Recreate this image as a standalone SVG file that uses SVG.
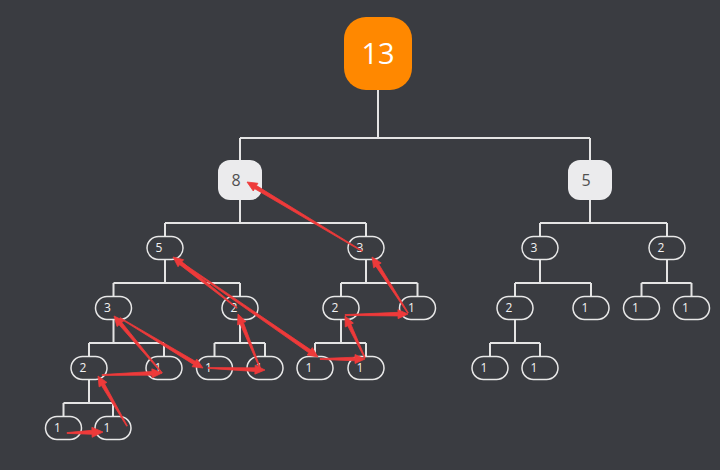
<svg xmlns="http://www.w3.org/2000/svg" width="720" height="470" viewBox="0 0 720 470">
<style>
.bg{fill:#3a3c41}
.edge{fill:none;stroke:#e4e4e4;stroke-width:2}
.pill{fill:#3a3c41;stroke:#e8e8e8;stroke-width:1.5}
.pt{font-family:"Open Sans","Noto Sans",sans-serif;font-size:12px;fill:#f2f2f2;text-anchor:middle}
.big{fill:#ebebed}
.bt{font-family:"Open Sans","Noto Sans",sans-serif;font-size:16px;fill:#505050;text-anchor:middle}
.root{fill:#ff8800}
.rt{font-family:"Open Sans","Noto Sans",sans-serif;font-size:29px;fill:#ffffff;text-anchor:middle}
.arr{fill:#ee3a3a;stroke:#ee3a3a;stroke-width:0.8;stroke-linejoin:round}
</style>
<rect class="bg" x="0" y="0" width="720" height="470"/>
<g id="connectors">
<path class="edge" d="M378 90V138M240 138H590M240 138V160M590 138V160"/>
<path class="edge" d="M240 200V223M165 223H366M165 223V236.5M366 223V236.5"/>
<path class="edge" d="M590 200V223M540 223H667M540 223V236.5M667 223V236.5"/>
<path class="edge" d="M165 259.5V283M113.5 283H240M113.5 283V296.5M240 283V296.5"/>
<path class="edge" d="M366 259.5V283M341 283H417.5M341 283V296.5M417.5 283V296.5"/>
<path class="edge" d="M540 259.5V283M515 283H591M515 283V296.5M591 283V296.5"/>
<path class="edge" d="M667 259.5V283M641.5 283H691.5M641.5 283V296.5M691.5 283V296.5"/>
<path class="edge" d="M113.5 319.5V343M89 343H164M89 343V356.5M164 343V356.5"/>
<path class="edge" d="M240 319.5V343M214.5 343H265M214.5 343V356.5M265 343V356.5"/>
<path class="edge" d="M341 319.5V343M315 343H366M315 343V356.5M366 343V356.5"/>
<path class="edge" d="M515 319.5V343M490 343H540M490 343V356.5M540 343V356.5"/>
<path class="edge" d="M89 379.5V403M63.5 403H113M63.5 403V416.5M113 403V416.5"/>
</g>
<g id="n13"><rect class="root" x="344" y="17" width="68" height="73" rx="22"/><text class="rt" x="378" y="64">13</text></g>
<g id="n8"><rect class="big" x="218" y="160" width="44" height="40" rx="12"/><text class="bt" x="236" y="186">8</text></g>
<g id="n5r"><rect class="big" x="568" y="160" width="44" height="40" rx="12"/><text class="bt" x="586" y="186">5</text></g>
<g id="n5"><rect class="pill" x="147" y="236.5" width="36" height="23" rx="11.5"/><text class="pt" x="159" y="252">5</text></g>
<g id="n3a"><rect class="pill" x="348" y="236.5" width="36" height="23" rx="11.5"/><text class="pt" x="360" y="252">3</text></g>
<g id="n3b"><rect class="pill" x="522" y="236.5" width="36" height="23" rx="11.5"/><text class="pt" x="534" y="252">3</text></g>
<g id="n2a"><rect class="pill" x="649" y="236.5" width="36" height="23" rx="11.5"/><text class="pt" x="661" y="252">2</text></g>
<g id="n3c"><rect class="pill" x="95.5" y="296.5" width="36" height="23" rx="11.5"/><text class="pt" x="107.5" y="312">3</text></g>
<g id="n2b"><rect class="pill" x="222" y="296.5" width="36" height="23" rx="11.5"/><text class="pt" x="234" y="312">2</text></g>
<g id="n2c"><rect class="pill" x="323" y="296.5" width="36" height="23" rx="11.5"/><text class="pt" x="335" y="312">2</text></g>
<g id="n1a"><rect class="pill" x="399.5" y="296.5" width="36" height="23" rx="11.5"/><text class="pt" x="411.5" y="312">1</text></g>
<g id="n2d"><rect class="pill" x="497" y="296.5" width="36" height="23" rx="11.5"/><text class="pt" x="509" y="312">2</text></g>
<g id="n1b"><rect class="pill" x="573" y="296.5" width="36" height="23" rx="11.5"/><text class="pt" x="585" y="312">1</text></g>
<g id="n1c"><rect class="pill" x="623.5" y="296.5" width="36" height="23" rx="11.5"/><text class="pt" x="635.5" y="312">1</text></g>
<g id="n1d"><rect class="pill" x="673.5" y="296.5" width="36" height="23" rx="11.5"/><text class="pt" x="685.5" y="312">1</text></g>
<g id="n2e"><rect class="pill" x="71" y="356.5" width="36" height="23" rx="11.5"/><text class="pt" x="83" y="372">2</text></g>
<g id="n1e"><rect class="pill" x="146" y="356.5" width="36" height="23" rx="11.5"/><text class="pt" x="158" y="372">1</text></g>
<g id="n1f"><rect class="pill" x="196.5" y="356.5" width="36" height="23" rx="11.5"/><text class="pt" x="208.5" y="372">1</text></g>
<g id="n1g"><rect class="pill" x="247" y="356.5" width="36" height="23" rx="11.5"/><text class="pt" x="259" y="372">1</text></g>
<g id="n1h"><rect class="pill" x="297" y="356.5" width="36" height="23" rx="11.5"/><text class="pt" x="309" y="372">1</text></g>
<g id="n1i"><rect class="pill" x="348" y="356.5" width="36" height="23" rx="11.5"/><text class="pt" x="360" y="372">1</text></g>
<g id="n1j"><rect class="pill" x="472" y="356.5" width="36" height="23" rx="11.5"/><text class="pt" x="484" y="372">1</text></g>
<g id="n1k"><rect class="pill" x="522" y="356.5" width="36" height="23" rx="11.5"/><text class="pt" x="534" y="372">1</text></g>
<g id="n1l"><rect class="pill" x="45.5" y="416.5" width="36" height="23" rx="11.5"/><text class="pt" x="57.5" y="432">1</text></g>
<g id="n1m"><rect class="pill" x="95" y="416.5" width="36" height="23" rx="11.5"/><text class="pt" x="107" y="432">1</text></g>
<g id="traversal">
<polygon class="arr" points="67,433.4 92.06,434.3 92.14,437.3 103,432 91.86,427.3 91.94,430.3 67,432.6"/>
<polygon class="arr" points="127.35,425.8 104.56,383.75 106.9,382.4 98,376 99.1,386.9 101.44,385.55 126.65,426.2"/>
<polygon class="arr" points="102,375.4 152.06,375.13 152.15,377.83 162,373 151.85,368.83 151.94,371.53 102,374.6"/>
<polygon class="arr" points="162.31,372.74 121.82,322.49 123.88,320.75 114,316 117,326.55 119.06,324.81 161.69,373.26"/>
<polygon class="arr" points="119.79,318.34 193.5,364.38 192.11,366.7 203,368 196.75,358.98 195.36,361.3 120.21,317.66"/>
<polygon class="arr" points="208,368.4 254.95,371.45 254.85,374.15 265,370 255.17,365.15 255.07,367.85 208,367.6"/>
<polygon class="arr" points="260.37,367.85 243.44,322.58 245.94,321.56 238,314 237.6,324.96 240.1,323.94 259.63,368.15"/>
<polygon class="arr" points="237.25,307.69 181.94,261.82 183.62,259.71 173,257 178.02,266.75 179.7,264.64 236.75,308.31"/>
<polygon class="arr" points="175.77,259.33 308.75,352.8 307.21,355.02 318,357 312.33,347.62 310.79,349.84 176.23,258.67"/>
<polygon class="arr" points="320,359.4 355,360.8 355,363.5 365,359 355,354.5 355,357.2 320,358.6"/>
<polygon class="arr" points="365.36,357.83 350.93,324.26 353.36,323.1 345,316 345.24,326.97 347.67,325.8 364.64,358.17"/>
<polygon class="arr" points="345,315.4 398.03,315.96 398.07,318.66 408,314 397.93,309.66 397.97,312.36 345,314.6"/>
<polygon class="arr" points="408.34,312.78 378.92,264.44 381.19,262.98 372,257 373.63,267.84 375.9,266.38 407.66,313.22"/>
<polygon class="arr" points="362.21,250.66 256.51,185.61 257.9,183.29 247,182 253.26,191.01 254.65,188.69 361.79,251.34"/>
</g>
</svg>
